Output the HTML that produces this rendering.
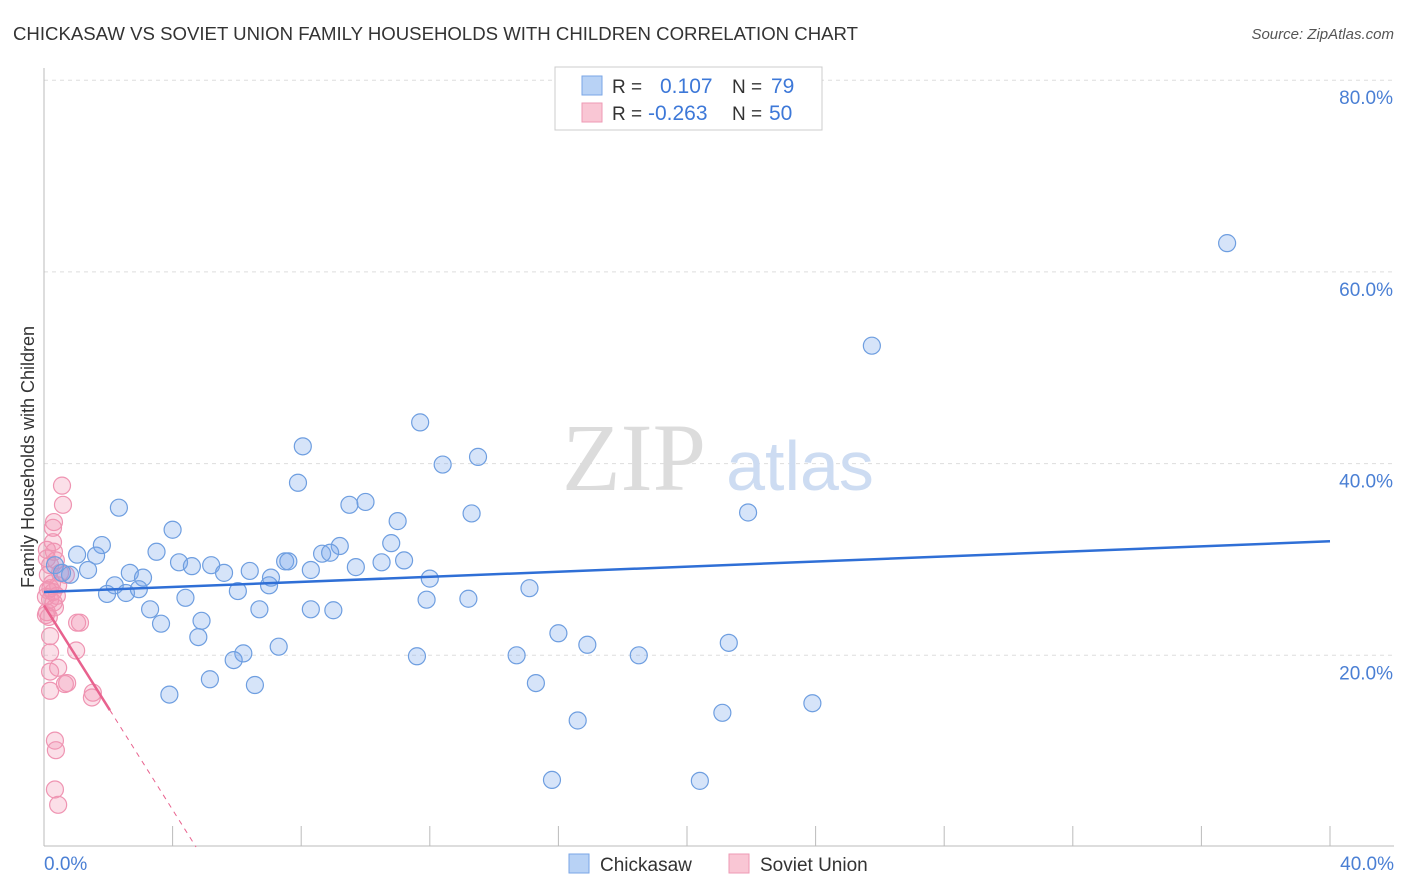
<!DOCTYPE html>
<html><head><meta charset="utf-8"><style>
body{margin:0;background:#fff;font-family:"Liberation Sans",sans-serif}
svg{display:block}
</style></head><body>
<svg width="1406" height="892" viewBox="0 0 1406 892">
<text x="13" y="40" font-size="18" fill="#333" textLength="845" lengthAdjust="spacingAndGlyphs">CHICKASAW VS SOVIET UNION FAMILY HOUSEHOLDS WITH CHILDREN CORRELATION CHART</text>
<text x="1394" y="39" font-size="15" fill="#555" font-style="italic" text-anchor="end">Source: ZipAtlas.com</text>
<g id="grid"></g>
<g>
<text x="634" y="490" font-size="96" font-family="Liberation Serif,serif" fill="#dcdcdc" text-anchor="middle">ZIP</text>
<text x="800" y="490" font-size="70" fill="#cddcf2" text-anchor="middle">atlas</text>
</g>
<line x1="44" y1="68" x2="44" y2="846" stroke="#bbb"/>
<line x1="44" y1="846" x2="1394" y2="846" stroke="#bbb"/>
<g id="xticks"></g>
<g id="ylabels"></g>
<text x="44" y="870" font-size="19" fill="#4a7fd4">0.0%</text>
<text x="1394" y="870" font-size="19" fill="#4a7fd4" text-anchor="end">40.0%</text>
<text transform="translate(34,457) rotate(-90)" font-size="18" fill="#333" text-anchor="middle">Family Households with Children</text>
<g id="pts"></g>
<g id="trends"></g>
<g>
<rect x="555" y="67" width="267" height="63" fill="#fff" stroke="#ccc"/>
<rect x="582" y="76" width="20" height="19" fill="#b8d2f5" stroke="#7aa6e6"/>
<rect x="582" y="103" width="20" height="19" fill="#f9c6d4" stroke="#ee9ab4"/>
<text x="612" y="93" font-size="19" fill="#333">R = </text><text x="660" y="93" font-size="21" fill="#3d78d8">0.107</text>
<text x="732" y="93" font-size="19" fill="#333">N = </text><text x="771" y="93" font-size="21" fill="#3d78d8">79</text>
<text x="612" y="120" font-size="19" fill="#333">R = </text><text x="648" y="120" font-size="21" fill="#3d78d8">-0.263</text>
<text x="732" y="120" font-size="19" fill="#333">N = </text><text x="769" y="120" font-size="21" fill="#3d78d8">50</text>
</g>
<g>
<rect x="569" y="854" width="20" height="19" fill="#b8d2f5" stroke="#7aa6e6"/>
<text x="600" y="871" font-size="19" fill="#333">Chickasaw</text>
<rect x="729" y="854" width="20" height="19" fill="#f9c6d4" stroke="#ee9ab4"/>
<text x="760" y="871" font-size="19" fill="#333">Soviet Union</text>
</g>
</svg>
<script>
const yTicks=[20,40,60,80];
const blueX=[36.8,25.75,11.7,8.05,12.4,13.5,7.9,21.9,13.3,2.33,9.5,10.0,11.0,4.0,1.8,3.5,1.03,1.62,9.2,8.65,8.9,10.8,7.5,7.6,4.2,4.6,5.2,9.7,10.5,11.2,8.3,6.4,5.6,0.34,1.37,0.81,0.56,2.67,3.08,7.06,12.0,2.2,7.0,2.55,1.96,2.95,6.03,15.1,4.4,11.9,13.2,3.3,6.7,8.3,9.0,4.9,3.64,4.8,16.0,16.9,21.3,7.3,6.2,5.9,11.6,14.7,18.5,5.16,6.56,15.3,3.9,23.9,16.6,21.1,15.8,20.4];
const blueY=[63.0,52.3,44.3,41.8,39.9,40.7,38.0,34.9,34.8,35.4,35.7,36.0,34.0,33.1,31.5,30.8,30.5,30.4,31.4,30.6,30.7,31.7,29.8,29.8,29.7,29.3,29.4,29.2,29.7,29.9,28.9,28.8,28.6,29.4,28.9,28.4,28.6,28.6,28.1,28.1,28.0,27.3,27.3,26.5,26.4,26.9,26.7,27.0,26.0,25.8,25.9,24.8,24.8,24.8,24.7,23.6,23.3,21.9,22.3,21.1,21.3,20.9,20.2,19.5,19.9,20.0,20.0,17.5,16.9,17.1,15.9,15.0,13.2,14.0,7.0,6.9];
const pinkX=[0.56,0.59,0.31,0.28,0.28,0.09,0.31,0.09,0.19,0.37,0.12,0.5,0.68,0.25,0.44,0.12,0.28,0.06,0.19,0.34,0.09,0.06,1.12,1.03,0.19,1.0,0.19,0.44,0.19,0.72,0.65,1.52,1.49,0.19,0.34,0.37,0.34,0.44,0.2,0.4,0.3,0.15];
const pinkY=[37.7,35.7,33.9,33.3,31.8,31.0,30.8,30.1,29.4,29.9,28.4,28.6,28.4,27.5,27.3,26.8,26.6,26.1,25.8,25.0,24.5,24.2,23.4,23.4,22.0,20.5,20.3,18.7,18.3,17.1,17.0,16.1,15.6,16.3,11.1,10.1,6.0,4.4,27.0,26.2,25.5,24.0];
const blueTrend=[26.6,31.9];
const pinkTrend=[25.2,-5.33];
const xs=v=>44+v/40*1286, ys=v=>847-v/20*191.7;
const NS='http://www.w3.org/2000/svg';
function mk(tag,parent,attrs){const e=document.createElementNS(NS,tag);for(const k in attrs)e.setAttribute(k,attrs[k]);document.getElementById(parent).appendChild(e);return e;}
yTicks.forEach(t=>{
 const l=mk('line','grid',{x1:44,x2:1394,y1:ys(t),y2:ys(t),stroke:'#ddd','stroke-dasharray':'4,4'});
 
 
 const tx=mk('text','ylabels',{x:1393,y:ys(t)+24,'font-size':19,fill:'#4a7fd4','text-anchor':'end'});
 tx.textContent=t.toFixed(1)+'%';
 
 
});
for(let i=1;i<=10;i++){
 const l=mk('line','xticks',{x1:xs(i*4),x2:xs(i*4),y1:826,y2:846,stroke:'#bbb'});
 
 
}
pinkX.forEach((x,i)=>{
 const c=mk('circle','pts',{cx:xs(x),cy:ys(pinkY[i]),r:8.5,fill:'rgba(243,150,180,0.3)',stroke:'#ef94b2','stroke-width':1.2});
 
 
});
blueX.forEach((x,i)=>{
 const c=mk('circle','pts',{cx:xs(x),cy:ys(blueY[i]),r:8.5,fill:'rgba(120,165,235,0.3)',stroke:'#6e9ee0','stroke-width':1.2});
 
 
});
const bt=mk('line','trends',{x1:xs(0),y1:ys(blueTrend[0]),x2:xs(40),y2:ys(blueTrend[1]),stroke:'#2f6fd6','stroke-width':2.5});


const pe=2.05, pz=-pinkTrend[0]/pinkTrend[1];
const pt=mk('line','trends',{x1:xs(0),y1:ys(pinkTrend[0]),x2:xs(pe),y2:ys(pinkTrend[0]+pinkTrend[1]*pe),stroke:'#e8628e','stroke-width':2.5});


const pd=mk('line','trends',{x1:xs(pe),y1:ys(pinkTrend[0]+pinkTrend[1]*pe),x2:xs(pz),y2:ys(0),stroke:'#e8628e','stroke-width':1,'stroke-dasharray':'5,5'});


</script>
</body></html>
